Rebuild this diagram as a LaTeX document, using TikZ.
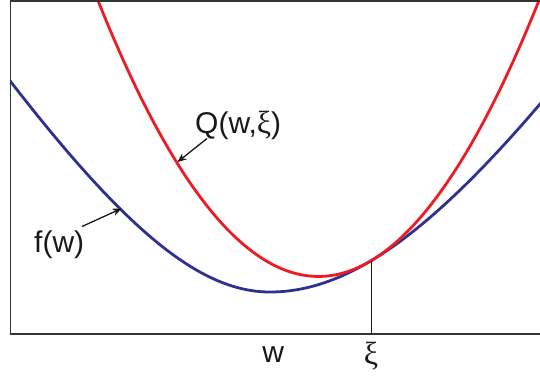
\documentclass[tikz,border=0pt]{standalone}
\usepackage{fontspec}
\setmainfont{Liberation Sans}
\newfontfamily\grkserif{Liberation Serif}
\newcommand{\xiglyph}{{\grkserif\fontsize{32}{36}\selectfont ξ}}
\usetikzlibrary{arrows.meta}
\definecolor{curvered}{HTML}{ED1C24}
\definecolor{curveblue}{HTML}{2E3192}
\begin{document}
\begin{tikzpicture}[x=1pt,y=-1pt,
  frame/.style={line width=1.4pt, draw=black!80},
  fcurve/.style={line width=2.8pt, draw=curveblue},
  qcurve/.style={line width=2.8pt, draw=curvered},
  pointer/.style={line width=1.3pt, draw=black!90, -{Stealth[length=9pt,width=7.5pt]}},
  thinline/.style={line width=0.9pt, draw=black!90},
  lbl/.style={font=\fontsize{30}{34}\selectfont, inner sep=0pt, text=black!90}]
\useasboundingbox (0,0) rectangle (540,378);
\begin{scope}
\clip (0,0) rectangle (540,378);
% curves
\begin{scope}
\clip (10.5,1) rectangle (545,334);
\draw[fcurve] plot[domain=5:270,samples=140] (\x,{292-160*(sqrt(1.9*1.9+((\x-270)/100)*((\x-270)/100))-1.9)})
  -- plot[domain=270:545,samples=140] (\x,{292-160*(sqrt(2.515*2.515+((\x-270)/100)*((\x-270)/100))-2.515)});
\draw[qcurve] plot[domain=90:550,samples=220] (\x,{260.77-59.63*((\x-371)/100)-56.76*((\x-371)/100)*((\x-371)/100)});
\end{scope}
% frame
\draw[frame] (545,1) -- (10.5,1) -- (10.5,334) -- (545,334);
% tangent point marker line
\coordinate (xi) at (371,260.77);
\coordinate (xibase) at (371,334);
\draw[thinline] (xi) -- (xibase);
% labels
\node[lbl, anchor=base west] (qlabel) at (195,133) {Q(w,\xiglyph)};
\node[lbl, anchor=base west] (flabel) at (34,252) {f(w)};
\node[lbl, anchor=base] (wlabel) at (273.3,362.5) {w};
\node[lbl, anchor=base] (xilabel) at (371,364) {\xiglyph};
% pointers
\coordinate (qtail) at (207,138.5);
\coordinate (qtip) at (177.5,162);
\draw[pointer] (qtail) -- (qtip);
\coordinate (ftail) at (82,226.5);
\coordinate (ftip) at (121.5,208.5);
\draw[pointer] (ftail) -- (ftip);
\end{scope}
\end{tikzpicture}
\end{document}
